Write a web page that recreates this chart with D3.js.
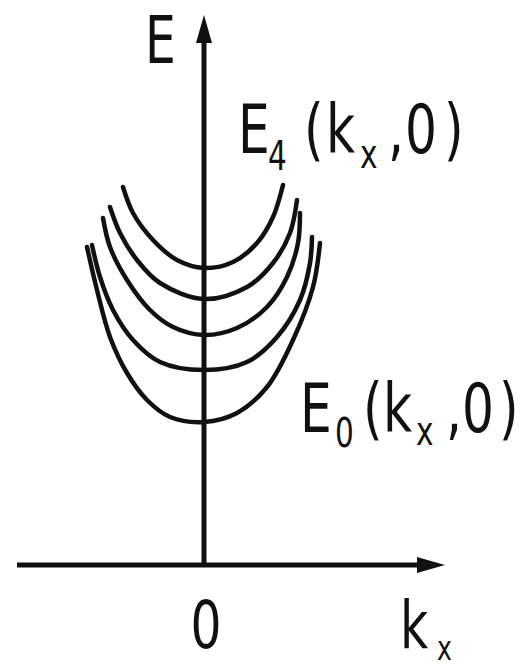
<!DOCTYPE html>
<html>
<head>
<meta charset="utf-8">
<script src="https://cdn.jsdelivr.net/npm/d3@7"></script>
<style>
  html, body { margin: 0; padding: 0; background: #fff; }
  svg { display: block; }
  text { font-family: "DejaVu Sans", sans-serif; fill: #111; }
</style>
</head>
<body>
<script>
// Landau-level subbands E_n(kx, 0) plotted against kx
const kxAxis = [-1.87, 2.41];   // extent of the kx axis
const eAxis = [0, 11];          // extent of the energy axis
const kxTicks = [0];
const kxTickLabels = ["0"];

// Sampled branches, lowest (n = 0) to highest (n = 4)
const band0K = [-1.17, -1.07, -0.94, -0.77, -0.57, -0.34, 0, 0.33, 0.63, 0.89, 1.09, 1.16];
const band0E = [6.36, 5.50, 4.56, 3.84, 3.30, 2.96, 2.86, 3.04, 3.56, 4.50, 5.56, 6.44];
const band1K = [-1.12, -1.04, -0.91, -0.71, -0.44, 0, 0.43, 0.73, 0.96, 1.06, 1.08];
const band1E = [6.40, 5.76, 5.10, 4.50, 4.06, 3.90, 4.06, 4.56, 5.30, 6.04, 6.56];
const band2K = [-1.01, -0.94, -0.77, -0.54, -0.31, 0, 0.33, 0.63, 0.83, 0.94, 0.96];
const band2E = [6.94, 6.36, 5.70, 5.10, 4.76, 4.60, 4.74, 5.16, 5.76, 6.44, 7.04];
const band3K = [-0.94, -0.84, -0.67, -0.44, 0, 0.43, 0.69, 0.86, 0.93];
const band3E = [7.16, 6.64, 6.10, 5.64, 5.32, 5.56, 6.04, 6.64, 7.30];
const band4K = [-0.81, -0.71, -0.51, -0.27, 0, 0.29, 0.53, 0.69, 0.79];
const band4E = [7.56, 7.04, 6.50, 6.10, 5.94, 6.06, 6.44, 6.96, 7.60];

const bands = [
  [band0K, band0E], [band1K, band1E], [band2K, band2E], [band3K, band3E], [band4K, band4E]
].map(([k, e]) => k.map((v, i) => ({ k: v, e: e[i] })));

const W = 521, H = 669;
const x = d3.scaleLinear().domain([0, 1]).range([204, 304]);
const y = d3.scaleLinear().domain([0, 1]).range([565, 515]);

const svg = d3.select("body").append("svg").attr("width", W).attr("height", H);

const ink = "#111";

// energy axis with arrowhead
const eTip = y(eAxis[1]);
svg.append("line")
  .attr("x1", x(0)).attr("x2", x(0))
  .attr("y1", y(eAxis[0])).attr("y2", eTip + 24)
  .attr("stroke", ink).attr("stroke-width", 5);
svg.append("path")
  .attr("d", `M${x(0)},${eTip} L${x(0) - 8},${eTip + 28} L${x(0) + 8},${eTip + 28} Z`)
  .attr("fill", ink);

// kx axis with arrowhead
const kTip = x(kxAxis[1]);
svg.append("line")
  .attr("x1", x(kxAxis[0])).attr("x2", kTip - 24)
  .attr("y1", y(0)).attr("y2", y(0))
  .attr("stroke", ink).attr("stroke-width", 5);
svg.append("path")
  .attr("d", `M${kTip},${y(0)} L${kTip - 28},${y(0) - 8} L${kTip - 28},${y(0) + 8} Z`)
  .attr("fill", ink);

// subband curves
const line = d3.line()
  .x(d => x(d.k)).y(d => y(d.e))
  .curve(d3.curveCatmullRom.alpha(0.5));
svg.append("g").selectAll("path").data(bands).join("path")
  .attr("d", line)
  .attr("fill", "none")
  .attr("stroke", ink)
  .attr("stroke-width", 4.5)
  .attr("stroke-linecap", "round");

// narrow lettering: each piece is drawn with a horizontal squeeze
const SX = 0.74;
function piece(t, px, py, size, anchor) {
  svg.append("text")
    .attr("transform", `translate(${px},${py}) scale(${SX},1)`)
    .attr("font-size", size)
    .attr("text-anchor", anchor || "start")
    .text(t);
}

// tick label on kx axis
kxTicks.forEach((t, i) => piece(kxTickLabels[i], x(t) + 2, 648, 66, "middle"));

// axis titles
piece("E", 145, 63, 66);
piece("k", 400, 648, 66);
piece("x", 437, 660, 34);

// E_4(kx, 0)
piece("E", 238, 153, 68);
piece("4", 268, 170, 40);
piece("(", 304, 153, 68);
piece("k", 326, 153, 68);
piece("x", 360, 168, 40);
piece(",", 388, 153, 68);
piece("0", 405, 153, 68);
piece(")", 444, 153, 68);

// E_0(kx, 0)
piece("E", 300, 432, 68);
piece("0", 335, 447, 40);
piece("(", 363, 432, 68);
piece("k", 383, 432, 68);
piece("x", 416, 445, 40);
piece(",", 446, 432, 68);
piece("0", 462, 432, 68);
piece(")", 499, 432, 68);
</script>
</body>
</html>
